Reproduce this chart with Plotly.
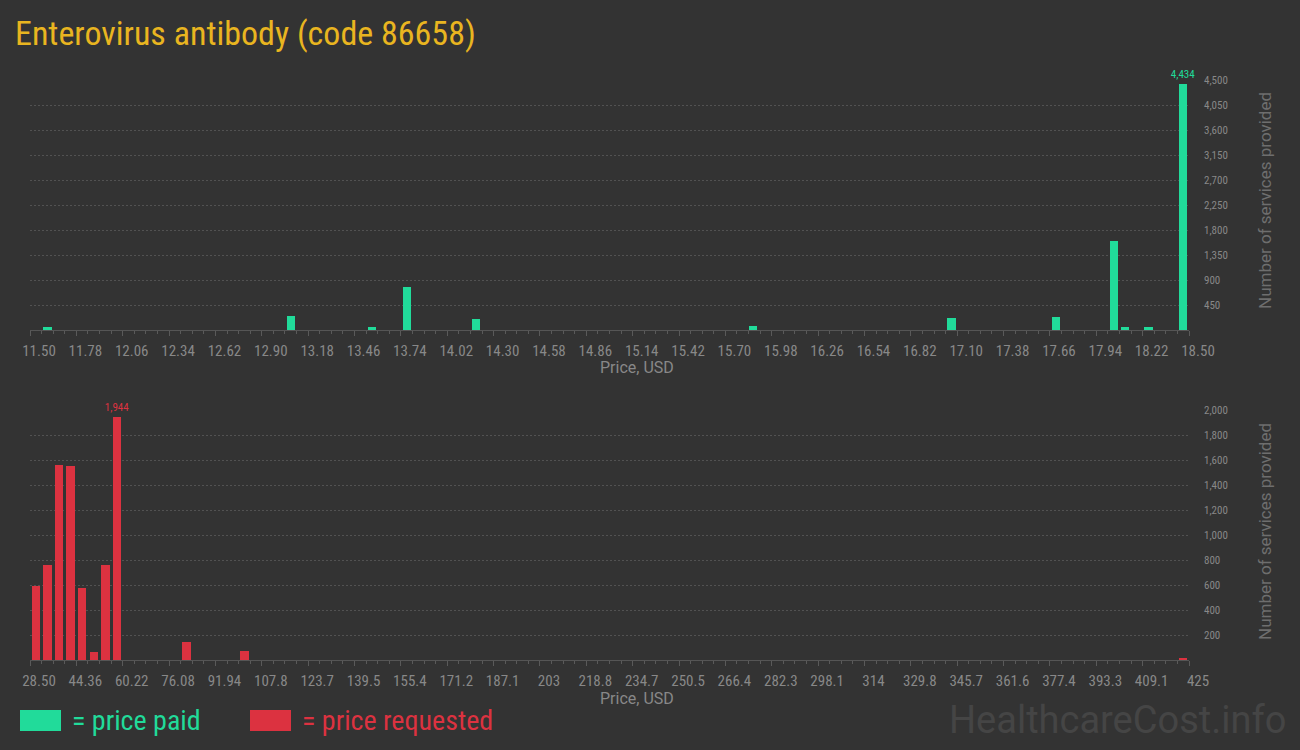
import plotly.graph_objects as go

# ---- data ----
paid_prices = [11.605, 13.075, 13.565, 13.775, 14.195, 15.865, 17.065, 17.695, 18.045, 18.115, 18.255, 18.465]
paid_counts = [60, 258, 60, 780, 204, 78, 222, 240, 1607, 60, 60, 4434]
paid_ticks = ["11.50", "11.78", "12.06", "12.34", "12.62", "12.90", "13.18", "13.46", "13.74", "14.02",
              "14.30", "14.58", "14.86", "15.14", "15.42", "15.70", "15.98", "16.26", "16.54", "16.82",
              "17.10", "17.38", "17.66", "17.94", "18.22", "18.50"]
paid_yticks = [450, 900, 1350, 1800, 2250, 2700, 3150, 3600, 4050, 4500]

req_prices = [30.48, 34.45, 38.41, 42.38, 46.34, 50.31, 54.27, 58.24, 82.03, 101.85, 423.02]
req_counts = [595, 762, 1562, 1555, 579, 67, 762, 1944, 147, 75, 20]
req_ticks = ["28.50", "44.36", "60.22", "76.08", "91.94", "107.8", "123.7", "139.5", "155.4", "171.2",
             "187.1", "203", "218.8", "234.7", "250.5", "266.4", "282.3", "298.1", "314", "329.8",
             "345.7", "361.6", "377.4", "393.3", "409.1", "425"]
req_yticks = [200, 400, 600, 800, 1000, 1200, 1400, 1600, 1800, 2000]

GREEN = "#21db9a"
RED = "#dc3240"
BG = "#333333"
TICKC = "#888888"
NARROW = "Roboto Condensed, Liberation Sans Narrow, DejaVu Sans Condensed, Roboto"
W, H = 1300, 750

def px_x(v):
    return v / W

def px_y(v):
    return 1 - v / H

fig = go.Figure()

paid_max = max(paid_counts)
req_max = max(req_counts)

fig.add_trace(go.Bar(
    x=paid_prices, y=paid_counts, width=0.05, marker=dict(color=GREEN, line=dict(width=0)),
    text=[f"{v:,}" if v == paid_max else "" for v in paid_counts],
    textposition="outside", cliponaxis=False, constraintext="none",
    outsidetextfont=dict(color=GREEN, size=11, family=NARROW),
    xaxis="x", yaxis="y", hoverinfo="x+y", showlegend=False))

fig.add_trace(go.Bar(
    x=req_prices, y=req_counts, width=2.9, marker=dict(color=RED, line=dict(width=0)),
    text=[f"{v:,}" if v == req_max else "" for v in req_counts],
    textposition="outside", cliponaxis=False, constraintext="none",
    outsidetextfont=dict(color=RED, size=11, family=NARROW),
    xaxis="x2", yaxis="y2", hoverinfo="x+y", showlegend=False))

def xaxis_common(lo, hi, labels, anchor, dom):
    step = (hi - lo) / (len(labels) - 1)
    return dict(
        domain=dom, range=[lo, hi], anchor=anchor, automargin=False,
        tickmode="array", tickvals=[lo + i * step for i in range(len(labels))], ticktext=labels,
        ticks="outside", ticklen=5, tickcolor="#5a5a5a", tickwidth=1,
        minor=dict(ticks="outside", ticklen=3, tickcolor="#5a5a5a", tick0=lo, dtick=step / 4, showgrid=False),
        showline=True, linecolor="#555555", linewidth=1,
        showgrid=False, zeroline=False,
        tickfont=dict(family=NARROW, size=15, color=TICKC),
        ticklabelshift=9, ticklabelstandoff=2,
        fixedrange=True,
    )

def yaxis_common(hi, ticks, anchor, dom):
    return dict(
        domain=dom, range=[0, hi], anchor=anchor, side="right", automargin=False,
        tickmode="array", tickvals=ticks, ticktext=[f"{t:,}" for t in ticks],
        ticks="", ticklabelstandoff=14,
        showgrid=True, gridcolor="#525252", griddash="2px,2px", gridwidth=1,
        zeroline=False, showline=False,
        tickfont=dict(family=NARROW, size=11, color=TICKC),
        fixedrange=True,
    )

xdom = [px_x(30), px_x(1189)]
fig.update_layout(
    width=W, height=H, autosize=False,
    margin=dict(l=0, r=0, t=0, b=0, pad=0, autoexpand=False),
    paper_bgcolor=BG, plot_bgcolor=BG,
    bargap=0, showlegend=False,
    xaxis=xaxis_common(11.5, 18.5, paid_ticks, "y", xdom),
    yaxis=yaxis_common(4500, paid_yticks, "x", [px_y(330.3), px_y(80)]),
    xaxis2=xaxis_common(28.5, 425.0, req_ticks, "y2", xdom),
    yaxis2=yaxis_common(2000, req_yticks, "x2", [px_y(660.3), px_y(410.3)]),
    font=dict(family="Roboto", color=TICKC),
)

annotations = [
    dict(text="Enterovirus antibody (code 86658)", x=px_x(13), y=px_y(33), xanchor="left", yanchor="middle",
         font=dict(family="Roboto Condensed, Roboto", size=34, color="#e9b520")),
    dict(text="Price, USD", x=px_x(637), y=px_y(368), xanchor="center", yanchor="middle",
         font=dict(family="Roboto", size=16, color=TICKC)),
    dict(text="Price, USD", x=px_x(637), y=px_y(698), xanchor="center", yanchor="middle",
         font=dict(family="Roboto", size=16, color=TICKC)),
    dict(text="Number of services provided", x=px_x(1265), y=px_y(201), textangle=-90,
         xanchor="center", yanchor="middle", font=dict(family="Roboto", size=17, color="#6e6e6e")),
    dict(text="Number of services provided", x=px_x(1265), y=px_y(532), textangle=-90,
         xanchor="center", yanchor="middle", font=dict(family="Roboto", size=17, color="#6e6e6e")),
    dict(text="= price paid", x=px_x(70), y=px_y(720), xanchor="left", yanchor="middle",
         font=dict(family="Roboto Condensed, Roboto", size=28, color=GREEN)),
    dict(text="= price requested", x=px_x(300), y=px_y(720), xanchor="left", yanchor="middle",
         font=dict(family="Roboto Condensed, Roboto", size=28, color=RED)),
    dict(text="HealthcareCost.info", x=px_x(1288), y=px_y(720), xanchor="right", yanchor="middle",
         font=dict(family="Roboto", size=38, color="#454545")),
]
for a in annotations:
    a.update(xref="paper", yref="paper", showarrow=False)
fig.update_layout(annotations=annotations)

fig.update_layout(shapes=[
    dict(type="rect", xref="paper", yref="paper", x0=px_x(20), x1=px_x(61), y0=px_y(731), y1=px_y(710),
         fillcolor=GREEN, line=dict(width=0)),
    dict(type="rect", xref="paper", yref="paper", x0=px_x(250), x1=px_x(291), y0=px_y(731), y1=px_y(710),
         fillcolor=RED, line=dict(width=0)),
])

fig.write_html(
    "out.html",
    config={"displayModeBar": False, "responsive": False},
    post_script="document.body.style.margin='0';document.body.style.background='#333333';"
                "document.body.style.overflow='hidden';",
)
